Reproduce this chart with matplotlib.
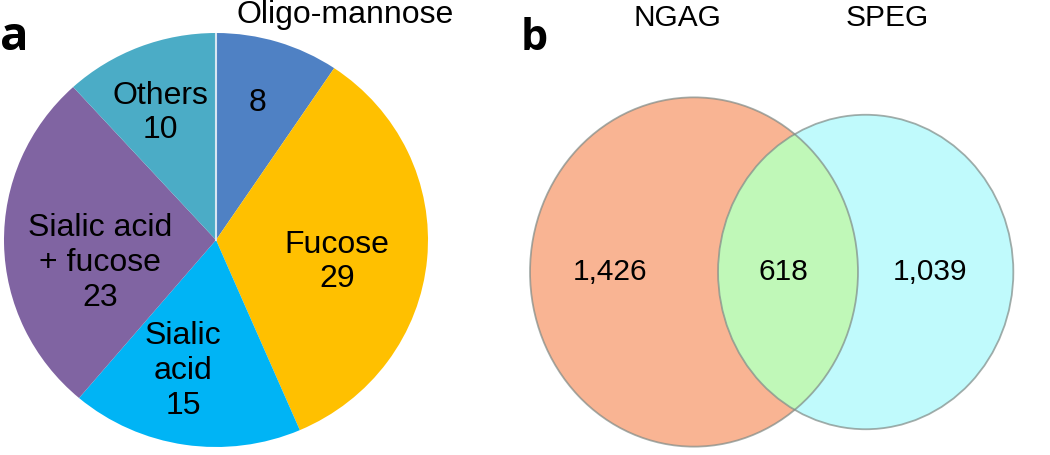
import matplotlib
matplotlib.use("Agg")
import matplotlib.pyplot as plt
from matplotlib.patches import Circle
import numpy as np

# Panel a: glycan types
pie_labels = ["8", "Fucose\n29", "Sialic\nacid\n15", "Sialic acid\n+ fucose\n23", "Others\n10"]
pie_values = [8, 29, 15, 23, 10]
pie_colors = ["#4f81c4", "#ffc000", "#00b4f5", "#8064a2", "#4bacc6"]

# Panel b: overlap of NGAG and SPEG
set_names = ["NGAG", "SPEG"]
only_left = 1426
shared = 618
only_right = 1039

plt.rcParams['font.family'] = ['Liberation Sans', 'DejaVu Sans']

fig = plt.figure(figsize=(10.5, 4.55), dpi=100)

# ---- pie ----
W, H = 1050, 455
ax1 = fig.add_axes([4 / W, 8 / H, 424 / W, 414 / H])
wedges, _ = ax1.pie(pie_values, colors=pie_colors, startangle=90, counterclock=False,
                    wedgeprops=dict(linewidth=0))
ax1.set_aspect('auto')
ax1.set_xlim(-1, 1)
ax1.set_ylim(-1, 1)
# thin light seam at the 12 o'clock start
ax1.plot([0, 0], [0, 1], color="#d8e6f2", lw=1.5, zorder=3)

# label positions inside wedges (axes data units)
label_pos = [(0.198, 0.662), (0.571, -0.106), (-0.156, -0.633), (-0.547, -0.111), (-0.264, 0.613)]
for (x, y), lab in zip(label_pos, pie_labels):
    ax1.text(x, y, lab, ha="center", va="center", fontsize=23, linespacing=1.2)
ax1.text(0.608, 1.087, "Oligo-mannose", ha="center", va="center", fontsize=23, clip_on=False)

fig.text(0 / W, 1 - 37 / H, "a", fontsize=34, fontweight="bold", ha="left", va="center",
         family=["Open Sans", "DejaVu Sans"])
fig.text(521 / W, 1 - 38 / H, "b", fontsize=31, fontweight="bold", ha="left", va="center",
         family=["Open Sans", "DejaVu Sans"])

# ---- venn (area proportional) ----
total_left = only_left + shared
total_right = only_right + shared
k = 3.627
r1 = k * np.sqrt(total_left)
r2 = k * np.sqrt(total_right)
target = shared / total_left * np.pi * r1 ** 2


def lens_area(d):
    a1 = np.arccos((d ** 2 + r1 ** 2 - r2 ** 2) / (2 * d * r1))
    a2 = np.arccos((d ** 2 + r2 ** 2 - r1 ** 2) / (2 * d * r2))
    return r1 ** 2 * (a1 - np.sin(2 * a1) / 2) + r2 ** 2 * (a2 - np.sin(2 * a2) / 2)


lo, hi = abs(r1 - r2) + 1e-6, r1 + r2 - 1e-6
for _ in range(60):
    mid = (lo + hi) / 2
    if lens_area(mid) > target:
        lo = mid
    else:
        hi = mid
d = (lo + hi) / 2

stretch = 1.065
ax2 = fig.add_axes([500 / W, 0, 550 / W, 1])
ax2.set_xlim(500 - 694, 1050 - 694)
ax2.set_ylim(-183 / stretch, 272 / stretch)
ax2.axis("off")

c_left = Circle((0, 0), r1, facecolor="#f9b493", edgecolor="none")
c_right = Circle((d, 0), r2, facecolor="#c0fafc", edgecolor="none")
ax2.add_patch(c_left)
ax2.add_patch(c_right)
lens = Circle((d, 0), r2, facecolor="#c0f8b8", edgecolor="none")
ax2.add_patch(lens)
lens.set_clip_path(c_left)
for c in [(0, 0, r1), (d, 0, r2)]:
    ax2.add_patch(Circle((c[0], c[1]), c[2], facecolor="none", edgecolor="#7f8a86",
                         linewidth=1.3, alpha=0.7))

ax2.text(-84, 0, f"{only_left:,}", ha="center", va="center", fontsize=21.5)
ax2.text(89, 0, f"{shared:,}", ha="center", va="center", fontsize=21.5)
ax2.text(236, 0, f"{only_right:,}", ha="center", va="center", fontsize=21.5)
ax2.text(677 - 694, (272 - 18) / stretch, set_names[0], ha="center", va="center", fontsize=21.5)
ax2.text(887 - 694, (272 - 18) / stretch, set_names[1], ha="center", va="center", fontsize=21.5)

fig.savefig("out.png", dpi=100)
